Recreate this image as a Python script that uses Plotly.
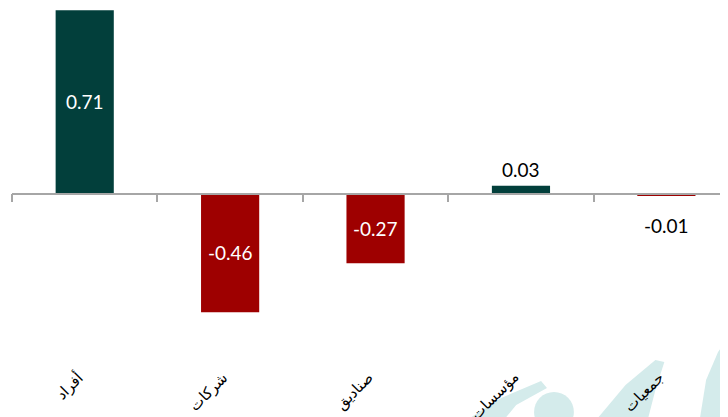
import plotly.graph_objects as go

categories = ["أفراد", "شركات", "صناديق", "مؤسسات", "جمعيات"]
values = [0.71, -0.46, -0.27, 0.03, -0.01]
value_labels = ["0.71", "-0.46", "-0.27", "0.03", "-0.01"]

# the page body adds an 8px margin, so the figure is drawn 8px smaller
OFF = 8
W, H = 728 - OFF, 417 - OFF
GREEN = "#023F3B"
RED = "#9E0000"
AXIS = "#A6A6A6"

colors = [GREEN if v >= 0 else RED for v in values]

fig = go.Figure()
fig.add_trace(go.Bar(
    x=categories, y=values,
    marker=dict(color=colors, line=dict(width=0)),
    width=0.4,
    hoverinfo="skip",
))

zero_px = 193.5 - OFF
scale = 258.0
y_top = zero_px / scale
y_bot = -(H - zero_px) / scale
zero_pos = -y_bot / (y_top - y_bot)

annotations = []
for c, v, t in zip(categories, values, value_labels):
    if abs(v) > 0.1:
        annotations.append(dict(x=c, y=v / 2, xref="x", yref="y", text=t,
                                showarrow=False,
                                font=dict(family="Lato", size=19, color="white")))
    else:
        annotations.append(dict(x=c, y=v, xref="x", yref="y", text=t,
                                showarrow=False,
                                yshift=16 if v >= 0 else -29,
                                font=dict(family="Lato", size=19, color="black")))

for c in categories:
    annotations.append(dict(x=c, y=(H - (366 - OFF)) / H, xref="x", yref="paper",
                            text=c, showarrow=False, textangle=-45,
                            xanchor="right", yanchor="top", xshift=4,
                            font=dict(family="DejaVu Sans", size=15, color="black")))

def px(x, y):
    return (x - OFF) / W, (H - (y - OFF)) / H

def poly(points):
    d = ""
    for i, (x, y) in enumerate(points):
        xx, yy = px(x, y)
        d += ("M" if i == 0 else "L") + f"{xx:.4f},{yy:.4f} "
    return d + "Z"

WM = "#D4EBEB"
cx0, cy0 = px(533, 432)
cx1, cy1 = px(573, 392)
shapes = [
    dict(type="path", xref="paper", yref="paper", layer="below",
         path=poly([(470, 417), (500, 398), (540, 381), (546, 388), (515, 405), (505, 417)]),
         fillcolor=WM, line=dict(width=0)),
    dict(type="circle", xref="paper", yref="paper", layer="below",
         x0=cx0, x1=cx1, y0=cy0, y1=cy1,
         fillcolor=WM, line=dict(width=0)),
    dict(type="path", xref="paper", yref="paper", layer="below",
         path=poly([(598, 417), (625, 385), (655, 360), (664, 362), (655, 390), (648, 417)]),
         fillcolor=WM, line=dict(width=0)),
    dict(type="path", xref="paper", yref="paper", layer="below",
         path=poly([(700, 417), (706, 380), (718, 352), (728, 338), (728, 417)]),
         fillcolor=WM, line=dict(width=0)),
]

cat_w = 145.5
left_px = 11.6 - OFF
x_end = -0.5 + (W - left_px) / cat_w

fig.update_layout(
    width=W, height=H,
    margin=dict(l=left_px, r=0, t=0, b=0),
    paper_bgcolor="white", plot_bgcolor="rgba(0,0,0,0)",
    showlegend=False,
    bargap=0.6,
    xaxis=dict(type="category", range=[-0.5, x_end], anchor="free", position=zero_pos,
               showline=True, linecolor=AXIS, linewidth=1.5,
               ticks="outside", tickson="boundaries", ticklen=8, tickcolor=AXIS, tickwidth=1.5,
               showticklabels=False, showgrid=False, zeroline=False, fixedrange=True),
    yaxis=dict(range=[y_bot, y_top], visible=False, showgrid=False, zeroline=False),
    annotations=annotations,
    shapes=shapes,
)

fig.write_html("out.html")
